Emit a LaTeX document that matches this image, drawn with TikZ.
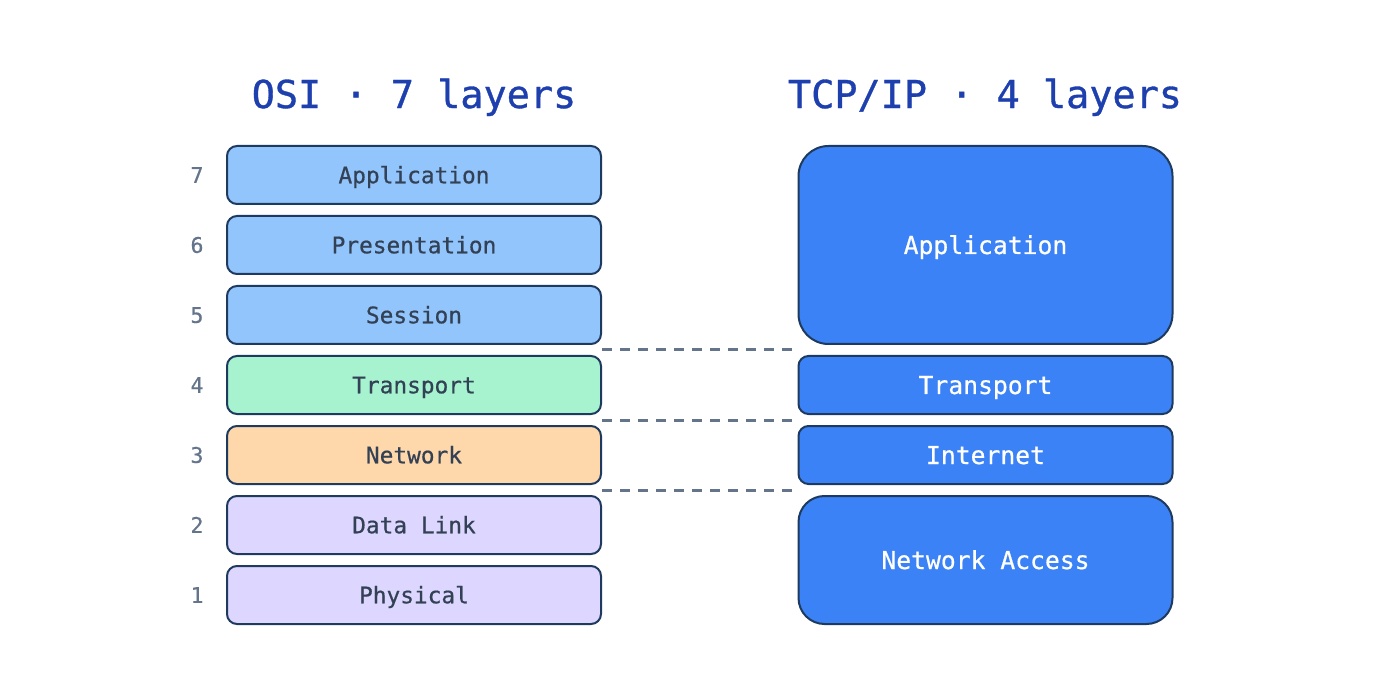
\documentclass[tikz,border=0pt]{standalone}
\usepackage{fontspec}
\setmonofont[FakeBold=0.6]{DejaVu Sans Mono}
\newfontfamily\titlemono[FakeBold=0.9]{DejaVu Sans Mono}
\usetikzlibrary{calc}
\definecolor{titleblue}{HTML}{1E40AF}
\definecolor{numgray}{HTML}{64748B}
\definecolor{edge}{HTML}{1E3A5F}
\definecolor{txt}{HTML}{334155}
\definecolor{fupper}{HTML}{93C5FD}
\definecolor{ftrans}{HTML}{A7F3D0}
\definecolor{fnet}{HTML}{FED7AA}
\definecolor{flow}{HTML}{DDD6FE}
\definecolor{ftcp}{HTML}{3B82F6}
\tikzset{
  layerbox/.style={draw=edge, line width=2pt, rounded corners=10pt, minimum width=374pt, minimum height=58pt, inner sep=0pt, text=txt, font=\ttfamily\fontsize{22.8}{26}\selectfont, text height=16.6pt, text depth=0pt},
  tcpbox/.style={layerbox, fill=ftcp, text=white, font=\ttfamily\fontsize{24.7}{28}\selectfont, text height=18pt},
  numlabel/.style={text=numgray, font=\ttfamily\fontsize{21.5}{25}\selectfont, inner sep=0pt, text height=15.7pt, text depth=0pt},
  title/.style={text=titleblue, font=\titlemono\fontsize{38.5}{44}\selectfont, inner sep=0pt, text height=28.1pt, text depth=0pt},
  mapline/.style={draw=numgray, line width=3pt, dash pattern=on 10pt off 8pt}
}
\begin{document}
\begin{tikzpicture}[x=1pt,y=-1pt]
\useasboundingbox (0,0) rectangle (1400,700);
\node[title] (t1) at (414,94) {OSI · 7 layers};
\node[title] (t2) at (985,94) {TCP/IP · 4 layers};
% OSI
\node[layerbox, fill=fupper] (o7) at (414,175) {Application};
\node[layerbox, fill=fupper] (o6) at (414,245) {Presentation};
\node[layerbox, fill=fupper] (o5) at (414,315) {Session};
\node[layerbox, fill=ftrans] (o4) at (414,385) {Transport};
\node[layerbox, fill=fnet] (o3) at (414,455) {Network};
\node[layerbox, fill=flow] (o2) at (414,525) {Data Link};
\node[layerbox, fill=flow] (o1) at (414,595) {Physical};
\node[numlabel] (n7) at (197,175) {7};
\node[numlabel] (n6) at (197,245) {6};
\node[numlabel] (n5) at (197,315) {5};
\node[numlabel] (n4) at (197,385) {4};
\node[numlabel] (n3) at (197,455) {3};
\node[numlabel] (n2) at (197,525) {2};
\node[numlabel] (n1) at (197,595) {1};
% TCP/IP
\node[tcpbox, minimum height=198pt, rounded corners=30pt] (ta) at (985.5,245) {Application};
\node[tcpbox] (tt) at (985.5,385) {Transport};
\node[tcpbox] (ti) at (985.5,455) {Internet};
\node[tcpbox, minimum height=128pt, rounded corners=26pt] (tn) at (985.5,560) {Network Access};
% mapping lines
\draw[mapline] ($(o5.south east)!0.5!(o4.north east)$) -- ($(ta.south west)!0.5!(tt.north west)$);
\draw[mapline] ($(o4.south east)!0.5!(o3.north east)$) -- ($(tt.south west)!0.5!(ti.north west)$);
\draw[mapline] ($(o3.south east)!0.5!(o2.north east)$) -- ($(ti.south west)!0.5!(tn.north west)$);
\end{tikzpicture}
\end{document}
